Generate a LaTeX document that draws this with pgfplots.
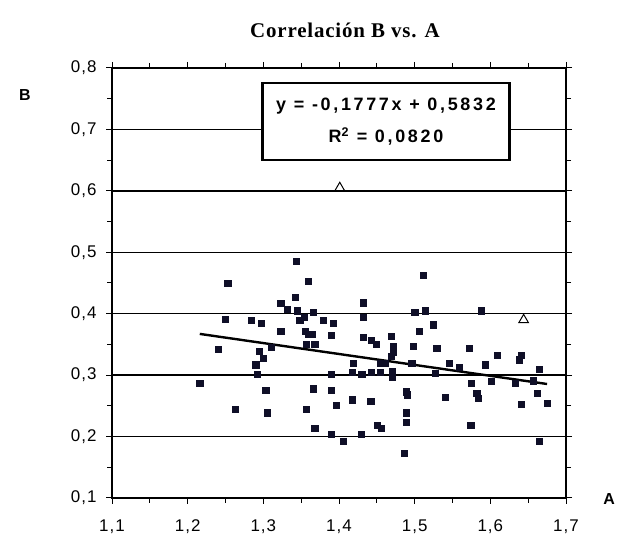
\documentclass[border=0pt]{standalone}
\usepackage{fontspec}
\setmainfont{Liberation Sans}
\newfontfamily\serifb[LetterSpace=4]{Liberation Serif}
\newfontfamily\boxfont[LetterSpace=15]{Liberation Sans}
\newfontfamily\tickfont[LetterSpace=6]{Liberation Sans}
\usepackage{pgfplots}
\pgfplotsset{compat=1.18}
\definecolor{mk}{RGB}{15,15,40}
\pgfplotstableread{
A B
1.343 0.486
1.253 0.450
1.359 0.453
1.342 0.427
1.323 0.417
1.332 0.407
1.345 0.405
1.366 0.402
1.250 0.391
1.284 0.390
1.297 0.385
1.348 0.390
1.354 0.394
1.323 0.372
1.355 0.372
1.359 0.367
1.240 0.342
1.295 0.339
1.310 0.346
1.357 0.351
1.368 0.351
1.300 0.327
1.290 0.317
1.292 0.302
1.216 0.287
1.303 0.275
1.366 0.278
1.263 0.244
1.305 0.239
1.357 0.244
1.368 0.213
1.511 0.463
1.432 0.418
1.432 0.394
1.500 0.402
1.514 0.405
1.379 0.390
1.392 0.384
1.364 0.366
1.390 0.365
1.525 0.382
1.506 0.371
1.432 0.362
1.443 0.357
1.449 0.351
1.469 0.364
1.472 0.347
1.472 0.338
1.469 0.331
1.498 0.347
1.529 0.344
1.419 0.320
1.454 0.320
1.461 0.320
1.496 0.320
1.390 0.302
1.417 0.305
1.430 0.302
1.443 0.305
1.454 0.305
1.470 0.306
1.470 0.296
1.527 0.303
1.390 0.276
1.489 0.273
1.490 0.268
1.417 0.260
1.442 0.258
1.396 0.251
1.489 0.239
1.489 0.224
1.451 0.219
1.456 0.213
1.390 0.204
1.429 0.204
1.406 0.193
1.486 0.173
1.588 0.405
1.572 0.344
1.609 0.333
1.641 0.333
1.638 0.325
1.546 0.320
1.559 0.313
1.593 0.317
1.665 0.310
1.575 0.287
1.601 0.290
1.633 0.287
1.657 0.291
1.662 0.270
1.540 0.264
1.582 0.270
1.584 0.262
1.641 0.253
1.675 0.254
1.574 0.218
1.665 0.192
}\sq
\pgfplotstableread{
A B
1.401 0.605
1.644 0.390
}\tri
\begin{document}
\begin{tikzpicture}[x=1bp,y=1bp]
\path[use as bounding box] (0,0) rectangle (620,537);
\begin{axis}[
 at={(112bp,39bp)}, anchor=south west,
 scale only axis, width=454bp, height=430bp,
 xmin=1.1, xmax=1.7, ymin=0.1, ymax=0.8,
 xtick={1.1,1.2,1.3,1.4,1.5,1.6,1.7},
 ytick={0.1,0.2,0.3,0.4,0.5,0.6,0.7,0.8},
 minor tick num=1,
 tick align=outside,
 major tick length=6bp, minor tick length=5bp,
 ymajorgrids, grid style={black, line width=1.3bp},
 axis line style={line width=1.3bp},
 every tick/.style={black, line width=1bp},
 /pgf/number format/.cd, use comma, fixed, fixed zerofill, precision=1, assume math mode=true,
 /pgfplots/.cd,
 tick label style={font=\tickfont\fontsize{17}{19}\selectfont},
 xticklabel style={yshift=-12bp},
 yticklabel style={xshift=-6bp},
 clip=false,
]
\addplot[only marks, mark=square*, mark size=3.1bp, mark options={fill=mk, draw=mk}] table[x=A,y=B] {\sq};
\addplot[only marks, mark=triangle, mark size=5.5bp, mark options={draw=black, fill=white, line width=1bp}] table[x=A,y=B] {\tri};
\addplot[black, line width=2.4bp, no marks] coordinates {(1.216,0.36712) (1.675,0.28555)};
\end{axis}
\node[font=\serifb\bfseries\fontsize{21}{23}\selectfont] at (345,507) {Correlación B vs. A};
\node[font=\bfseries\fontsize{16}{18}\selectfont] at (25,442) {B};
\node[font=\bfseries\fontsize{16}{18}\selectfont] at (609,38) {A};
\node[draw=black, line width=2.8bp, fill=white, minimum width=247bp, minimum height=77bp, inner sep=0pt, align=center, font=\boxfont\bfseries\fontsize{18}{32}\selectfont] at (386,415.5) {y = -0,1777x + 0,5832\\R\textsuperscript{2} = 0,0820};
\end{tikzpicture}
\end{document}
